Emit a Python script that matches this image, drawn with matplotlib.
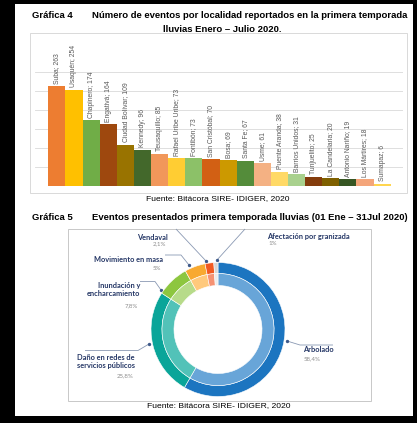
import matplotlib
matplotlib.use("Agg")
import matplotlib.pyplot as plt
from matplotlib.patches import Rectangle

W, H = 417, 423
DPI = 100

# ---------------- data ----------------
localidades = ["Suba", "Usaquén", "Chapinero", "Engativá", "Ciudad Bolívar", "Kennedy",
               "Teusaquillo", "Rafael Uribe Uribe", "Fontibón", "San Cristóbal", "Bosa",
               "Santa Fe", "Usme", "Puente Aranda", "Barrios Unidos", "Tunjuelito",
               "La Candelaria", "Antonio Nariño", "Los Mártires", "Sumapaz"]
eventos = [263, 254, 174, 164, 109, 96, 85, 73, 73, 70, 69, 67, 61, 38, 31, 25, 20, 19, 18, 6]
bar_colors = ["#ED7D31", "#FFC000", "#70AD47", "#9E480E", "#997300", "#43682B",
              "#F1975A", "#FFCD33", "#8CC168", "#D26014", "#CC9900", "#548C3A",
              "#F4B183", "#FFD966", "#A9D18E", "#843C0C", "#7F6000", "#375623",
              "#F4A57A", "#FFD54F"]

tipos = ["Arbolado", "Daño en redes de\nservicios públicos", "Inundación y\nencharcamiento",
         "Movimiento en masa", "Vendaval", "Afectación por granizada"]
porcentajes = [58.4, 25.8, 7.8, 5.0, 2.1, 1.0]
pct_labels = ["58,4%", "25,8%", "7,8%", "5%", "2,1%", "1%"]
outer_colors = ["#1C75C0", "#0AA599", "#8DC63F", "#F8A930", "#F15A22", "#D6D6D6"]
inner_colors = ["#68A5D8", "#52C2B8", "#B7DB8A", "#FFC97C", "#F59273", "#ECECEC"]

fig = plt.figure(figsize=(W / DPI, H / DPI), dpi=DPI)
fig.patch.set_facecolor("white")

def rect(l, t, r, b):
    return [l / W, 1 - b / H, (r - l) / W, (b - t) / H]

# overlay in pixel coordinates
ov = fig.add_axes([0, 0, 1, 1], zorder=0)
ov.set_xlim(0, W)
ov.set_ylim(H, 0)
ov.axis("off")

TF = "Liberation Sans"
TS = 6.8
# titles
ov.text(32, 15.5, "Gráfica 4", fontsize=TS, fontweight="bold", family=TF, va="center", ha="left")
ov.text(250, 15.5, "Número de eventos por localidad reportados en la primera temporada",
        fontsize=TS, fontweight="bold", family=TF, va="center", ha="center")
ov.text(222, 29, "lluvias Enero – Julio 2020.", fontsize=TS, fontweight="bold", family=TF,
        va="center", ha="center")
ov.text(218, 198.5, "Fuente: Bitácora SIRE- IDIGER, 2020", fontsize=6.1, family=TF,
        va="center", ha="center")
ov.text(32, 218, "Gráfica 5", fontsize=TS, fontweight="bold", family=TF, va="center", ha="left")
ov.text(250, 218, "Eventos presentados primera temporada lluvias (01 Ene – 31Jul 2020)",
        fontsize=TS, fontweight="bold", family=TF, va="center", ha="center")
ov.text(219, 405.5, "Fuente: Bitácora SIRE- IDIGER, 2020", fontsize=6.1, family=TF,
        va="center", ha="center")

# chart boxes
ov.add_patch(Rectangle((30, 33), 377, 160, fill=False, ec="#D9D9D9", lw=0.7))
ov.add_patch(Rectangle((68, 229), 303, 172, fill=False, ec="#C8C8C8", lw=0.7))

# ---------------- bar chart ----------------
ax = fig.add_axes(rect(35, 40, 403, 186), zorder=1)
ax.set_facecolor("none")
x = list(range(len(eventos)))
ax.bar(x, eventos, width=1.0, color=bar_colors, edgecolor="none", zorder=2)
ax.set_xlim(-1.277, 20.218)
ax.set_ylim(0, 385)
ax.set_yticks(range(0, 301, 50))
ax.yaxis.grid(True, color="#D9D9D9", lw=0.6, zorder=0)
ax.set_axisbelow(True)
ax.tick_params(length=0, labelleft=False, labelbottom=False)
ax.set_xticks([])
for s in ax.spines.values():
    s.set_visible(False)
for xi, (name, v) in enumerate(zip(localidades, eventos)):
    ax.text(xi, v + 6, f"{name}; {v}", rotation=90, ha="center", va="bottom",
            fontsize=4.9, color="#595959", family=TF, clip_on=False)

# ---------------- donut ----------------
CX, CY, R = 218, 329.5, 67
dx = fig.add_axes(rect(CX - R, CY - R, CX + R, CY + R), zorder=1)
dx.set_facecolor("none")
dx.pie(porcentajes, colors=outer_colors, startangle=90, counterclock=False, radius=1.0,
       wedgeprops=dict(width=0.164, edgecolor="white", linewidth=0.4))
dx.pie(porcentajes, colors=inner_colors, startangle=90, counterclock=False, radius=0.836,
       wedgeprops=dict(width=0.179, edgecolor="white", linewidth=0.4))
dx.set_xlim(-1, 1)
dx.set_ylim(-1, 1)
dx.set_aspect("equal")
dx.axis("off")

LF = "Lato"
NAVY = "#253766"
GRAY = "#8C8C8C"
LINE = "#8A99B3"
# label layout: (x, y_name, y_pct, ha)
layout = [
    (303, 350, 358.5, "left"),
    (135, 361.5, 375.5, "right"),
    (140, 289.5, 305.5, "right"),
    (163, 260, 268.5, "right"),
    (168, 237, 244, "right"),
    (267, 236, 243.5, "left"),
]
for name, pct, (lx, ly, py, ha) in zip(tipos, pct_labels, layout):
    ov.text(lx, ly, name, fontsize=5.3, fontweight="bold", color=NAVY, family=LF,
            ha=ha, va="center", linespacing=1.3, multialignment=ha)
    ov.text(lx + (1 if ha == "left" else -2), py, pct, fontsize=4.4, color=GRAY, family=LF,
            ha=ha, va="center")

leaders = [
    [(333, 345), (300, 345), (287, 341)],
    [(85, 350.5), (138, 350.5), (149, 344)],
    [(140, 281.5), (155, 281.5), (161, 290)],
    [(165, 255), (181, 255), (189, 265)],
    [(176, 229), (206, 261)],
    [(245, 229), (217, 260)],
]
for pts in leaders:
    xs = [p[0] for p in pts]
    ys = [p[1] for p in pts]
    ov.plot(xs, ys, color=LINE, lw=0.6, solid_capstyle="butt")
    ov.plot(xs[-1], ys[-1], "o", color="#3F5A8A", ms=1.4)

# black frame
top = fig.add_axes([0, 0, 1, 1], zorder=5)
top.set_xlim(0, W)
top.set_ylim(H, 0)
top.axis("off")
for l, t, r, b in [(0, 0, W, 4), (0, 0, 15, H), (413, 0, W, H), (0, 416, W, H)]:
    top.add_patch(Rectangle((l, t), r - l, b - t, color="black", lw=0))

fig.savefig("out.png", dpi=DPI)
